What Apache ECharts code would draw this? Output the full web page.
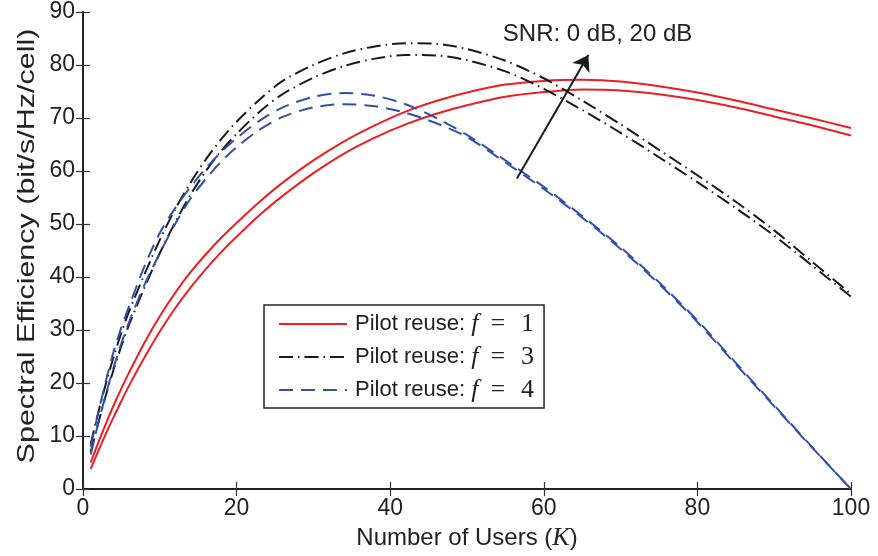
<!DOCTYPE html>
<html><head><meta charset="utf-8">
<script src="https://cdn.jsdelivr.net/npm/echarts@6/dist/echarts.min.js"></script>
<style>html,body{margin:0;padding:0;background:#fff}#c{width:878px;height:556px}</style>
</head><body><div id="c"></div>
<script>
const K = [1,2,3,4,5,6,8,10,12,14,16,18,20,23,26,30,34,38,42,46,50,55,60,65,70,75,80,85,90,95,100];
const f1_20dB = [5.0,8.8,12.4,15.8,19.0,22.0,27.6,32.6,37.0,40.9,44.3,47.4,50.2,54.2,57.8,62.0,65.6,68.6,71.2,73.2,74.8,76.3,77.0,77.2,76.9,76.0,74.8,73.3,71.6,69.9,68.1];
const f1_0dB  = [3.8,7.2,10.5,13.6,16.6,19.5,24.8,29.7,34.1,38.0,41.5,44.7,47.6,51.7,55.3,59.6,63.3,66.3,68.8,70.8,72.4,74.0,74.9,75.4,75.2,74.5,73.4,72.0,70.3,68.6,66.7];
const f3_20dB = [8.5,14.5,20.0,25.0,29.5,33.5,40.5,47.0,52.8,57.8,62.2,66.0,69.3,73.5,77.0,80.0,82.2,83.5,84.1,84.0,83.0,80.8,77.5,73.3,68.8,64.0,59.2,54.2,48.8,42.8,36.8];
const f3_0dB  = [7.0,12.5,17.8,22.6,27.0,31.0,38.0,44.5,50.3,55.5,60.0,63.8,67.0,71.2,74.5,77.6,79.8,81.2,81.9,81.8,80.9,78.8,75.5,71.5,67.2,62.6,57.9,53.0,47.8,42.1,36.3];
const f4_20dB = [8.0,14.5,20.5,26.0,30.5,34.5,42.0,48.3,53.0,57.0,60.5,63.6,66.2,69.5,72.0,74.0,74.7,74.2,72.6,70.0,66.8,62.0,57.0,51.5,45.6,39.0,31.8,23.8,15.8,7.8,0.0];
const f4_0dB  = [6.5,12.5,18.0,23.0,27.5,31.5,38.5,44.5,50.0,54.8,58.5,61.8,64.5,67.8,70.2,72.0,72.6,72.2,71.0,69.0,66.4,61.6,56.6,51.2,45.3,38.7,31.5,23.5,15.6,7.7,0.0];
const xTicks = [0,20,40,60,80,100];
const yTicks = [0,10,20,30,40,50,60,70,80,90];
const legendNames = ['f1','f3','f4'];
const legendValues = {f1:'1', f3:'3', f4:'4'};
const arrowFrom = [56.5, 58.6];
const arrowTo = [65.8, 81.9];
const snrText = 'SNR: 0 dB, 20 dB';
const snrAt = [67.0, 85.7];
const yTitle = 'Spectral Efficiency (bit/s/Hz/cell)';

const SANS = 'Liberation Sans, Arial, Helvetica, sans-serif';
const SERIF = 'Liberation Serif, DejaVu Serif, serif';
const RED = '#ee1d23', BLACK = '#1a1a1a', BLUE = '#3052a6';
const pair = a => K.map((k,i)=>[k,a[i]]);

function mk(name, data, color, type, extra) {
  return Object.assign({
    type:'line', name, data:pair(data), showSymbol:false, symbol:'none', smooth:0.3,
    lineStyle:{color, width:2, type}, itemStyle:{color}, z:3, animation:false
  }, extra||{});
}
const dashDot = [14,5,1.5,5];
const dash = [14,8];
const tickStyle = {show:true, inside:true, length:7, lineStyle:{color:'#333', width:1.2}};

const chart = echarts.init(document.getElementById('c'), null, {renderer:'canvas'});
chart.setOption({
  animation:false,
  grid:{left:83, right:27, top:12, bottom:67, containLabel:false},
  xAxis:[
    {type:'value', min:0, max:100, interval:20, position:'bottom',
     axisLine:{show:true, lineStyle:{color:'#222', width:2}},
     axisTick:tickStyle,
     axisLabel:{show:true, color:'#222', fontSize:23, fontFamily:SANS, margin:8, formatter:v=>xTicks.includes(v)?String(v):''},
     splitLine:{show:false},
     name:'Number of Users ({it|K})', nameLocation:'middle', nameGap:35,
     nameTextStyle:{color:'#222', fontSize:24, fontFamily:SANS, rich:{it:{fontFamily:SERIF, fontStyle:'italic', fontSize:26, color:'#222'}}}},
    {type:'value', min:0, max:100, interval:20, position:'top',
     axisLine:{show:true, lineStyle:{color:'#222', width:1.5}},
     axisTick:tickStyle, axisLabel:{show:false}, splitLine:{show:false}}
  ],
  yAxis:[
    {type:'value', min:0, max:90, interval:10, position:'left',
     axisLine:{show:true, lineStyle:{color:'#222', width:2}},
     axisTick:tickStyle,
     axisLabel:{show:true, color:'#222', fontSize:23, fontFamily:SANS, margin:8, formatter:v=>yTicks.includes(v)?String(v):''},
     splitLine:{show:false}},
    {type:'value', min:0, max:90, interval:10, position:'right',
     axisLine:{show:true, lineStyle:{color:'#222', width:1.5}},
     axisTick:tickStyle, axisLabel:{show:false}, splitLine:{show:false}}
  ],
  graphic:[
    {type:'text', x:27, y:246, rotation:Math.PI/2, scaleX:1.27, scaleY:1.0, silent:true,
     style:{text:yTitle, fill:'#222', font:'24px ' + SANS, align:'center', verticalAlign:'middle'}}
  ],
  legend:{
    show:true, data:legendNames, orient:'vertical', left:264, top:305,
    itemWidth:68, itemHeight:14, itemGap:7,
    padding:[6,10,5,14], borderColor:'#222', borderWidth:1.5, backgroundColor:'#fff',
    itemStyle:{opacity:0},
    textStyle:{color:'#222', fontSize:22, fontFamily:SANS, lineHeight:24, padding:[0,0,0,3],
      rich:{it:{fontFamily:SERIF, fontStyle:'italic', fontSize:26, color:'#222', lineHeight:24},
            sp1:{width:12, lineHeight:24}, sp2:{width:16, lineHeight:24},
            m:{fontFamily:SERIF, fontSize:26, color:'#222', lineHeight:24}}},
    formatter: n => 'Pilot reuse: {it|f}{sp1|}{m|=}{sp2|}{m|' + legendValues[n] + '}'
  },
  series:[
    mk('f1', f1_20dB, RED, 'solid', {
      markLine:{silent:true, symbol:['none','arrow'], symbolSize:15, animation:false,
        lineStyle:{color:BLACK, width:2, type:'solid'}, label:{show:false},
        data:[[{coord:arrowFrom},{coord:arrowTo}]]},
      markPoint:{silent:true, symbol:'circle', symbolSize:0, animation:false,
        label:{show:true, position:'inside', formatter:snrText, color:'#222', fontSize:24, fontFamily:SANS},
        data:[{coord:snrAt}]}
    }),
    mk('f1', f1_0dB, RED, 'solid'),
    mk('f3', f3_20dB, BLACK, dashDot),
    mk('f3', f3_0dB, BLACK, dashDot),
    mk('f4', f4_20dB, BLUE, dash),
    mk('f4', f4_0dB, BLUE, dash)
  ]
});
</script></body></html>
